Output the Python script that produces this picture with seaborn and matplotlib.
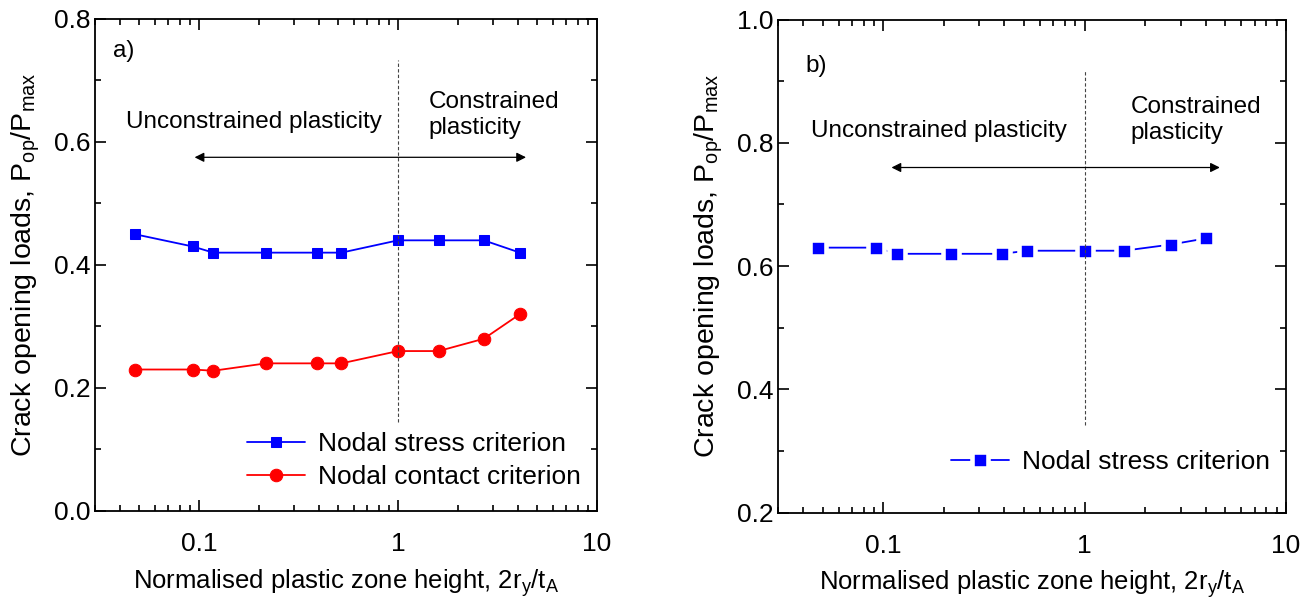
import matplotlib
matplotlib.use("Agg")
import matplotlib.pyplot as plt
import seaborn as sns
import pandas as pd
from matplotlib.ticker import FixedLocator, NullFormatter, MultipleLocator, LogLocator

# ---- data ----
x_a = [0.0475, 0.093, 0.118, 0.217, 0.39, 0.52, 1.0, 1.6, 2.7, 4.1]
stress_a = [0.45, 0.43, 0.42, 0.42, 0.42, 0.42, 0.44, 0.44, 0.44, 0.42]
contact_a = [0.23, 0.23, 0.228, 0.24, 0.24, 0.24, 0.26, 0.26, 0.28, 0.32]

x_b = [0.0473, 0.092, 0.117, 0.216, 0.39, 0.52, 1.0, 1.57, 2.68, 4.0]
stress_b = [0.63, 0.63, 0.62, 0.62, 0.62, 0.625, 0.625, 0.625, 0.635, 0.645]

x_ticks = [0.1, 1, 10]
x_tick_labels = ["0.1", "1", "10"]
y_ticks_a = [0.0, 0.2, 0.4, 0.6, 0.8]
y_ticks_b = [0.2, 0.4, 0.6, 0.8, 1.0]

sns.set_style("ticks")
plt.rcParams["font.family"] = ["Liberation Sans", "DejaVu Sans"]
plt.rcParams["mathtext.fontset"] = "custom"
plt.rcParams["mathtext.rm"] = "Liberation Sans"
plt.rcParams["mathtext.it"] = "Liberation Sans:italic"
plt.rcParams["mathtext.bf"] = "Liberation Sans:bold"
plt.rcParams["text.color"] = "black"
plt.rcParams["axes.labelcolor"] = "black"
plt.rcParams["xtick.color"] = "black"
plt.rcParams["ytick.color"] = "black"

fig = plt.figure(figsize=(13.14, 6.06), dpi=100)
ax1 = fig.add_axes([0.0723, 0.1568, 0.382, 0.812])
ax2 = fig.add_axes([0.592, 0.154, 0.3866, 0.8137])

FS_TICK = 19
FS_XL = 18.5
FS_YL = 20.5
FS_ANN = 17.5
FS_LEG = 19
xlabel = r"Normalised plastic zone height, 2r$_{\rm y}$/t$_{\rm A}$"
ylabel = r"Crack opening loads, P$_{\rm op}$/P$_{\rm max}$"

df_a = pd.DataFrame({"x": x_a, "stress": stress_a, "contact": contact_a})
df_b = pd.DataFrame({"x": x_b, "stress": stress_b})

sns.lineplot(data=df_a, x="x", y="stress", ax=ax1, color="#0000FF", marker="s",
             markersize=7.8, markeredgecolor="#0000FF", linewidth=1.3,
             label="Nodal stress criterion")
sns.lineplot(data=df_a, x="x", y="contact", ax=ax1, color="#FF0000", marker="o",
             markersize=9, markeredgecolor="#FF0000", linewidth=1.3,
             label="Nodal contact criterion")
sns.lineplot(data=df_b, x="x", y="stress", ax=ax2, color="#0000FF", marker="s",
             markersize=11.5, markeredgecolor="white", markeredgewidth=3.3,
             linewidth=1.3, label="Nodal stress criterion")

def style(ax, ylim, yticks, ymin_step):
    ax.set_xscale("log")
    ax.set_xlim(0.03, 10)
    ax.set_ylim(*ylim)
    ax.xaxis.set_major_locator(FixedLocator(x_ticks))
    ax.set_xticklabels(x_tick_labels)
    ax.xaxis.set_minor_locator(LogLocator(base=10, subs=range(2, 10)))
    ax.xaxis.set_minor_formatter(NullFormatter())
    ax.set_yticks(yticks)
    ax.set_yticklabels([f"{v:.1f}" for v in yticks])
    ax.yaxis.set_minor_locator(MultipleLocator(ymin_step))
    ax.tick_params(which="both", direction="in", top=True, right=True,
                   labelsize=FS_TICK, width=1.2, color="black", labelcolor="black")
    ax.tick_params(which="major", length=8)
    ax.tick_params(axis="x", which="major", pad=15)
    ax.tick_params(axis="y", which="major", pad=3)
    ax.tick_params(which="minor", length=4)
    for s in ax.spines.values():
        s.set_linewidth(1.3)
        s.set_color("black")
    ax.set_xlabel(xlabel, fontsize=FS_XL, labelpad=8)
    ax.set_ylabel(ylabel, fontsize=FS_YL, labelpad=9)

style(ax1, (0.0, 0.8), y_ticks_a, 0.1)
style(ax2, (0.2, 1.0), y_ticks_b, 0.1)

# annotations panel a
ax1.axvline(1.0, ymin=(0.145 - 0.0) / 0.8, ymax=(0.733 - 0.0) / 0.8,
            color="#444444", linestyle=(0, (3, 2)), linewidth=0.8)
ax1.annotate("", xy=(0.095, 0.575), xytext=(4.4, 0.575),
             arrowprops=dict(arrowstyle="<|-|>", color="black", lw=0.9,
                             mutation_scale=14, shrinkA=0, shrinkB=0))
ax1.text(0.043, 0.633, "Unconstrained plasticity", fontsize=FS_ANN, va="center", ha="left")
ax1.text(1.42, 0.644, "Constrained\nplasticity", fontsize=FS_ANN, va="center", ha="left",
         linespacing=1.2)
ax1.text(0.035, 0.935, "a)", transform=ax1.transAxes, fontsize=FS_ANN, va="center")

# annotations panel b
ax2.axvline(1.0, ymin=(0.342 - 0.2) / 0.8, ymax=(0.918 - 0.2) / 0.8,
            color="#444444", linestyle=(0, (3, 2)), linewidth=0.8)
ax2.annotate("", xy=(0.11, 0.76), xytext=(4.7, 0.76),
             arrowprops=dict(arrowstyle="<|-|>", color="black", lw=0.9,
                             mutation_scale=14, shrinkA=0, shrinkB=0))
ax2.text(0.0436, 0.819, "Unconstrained plasticity", fontsize=FS_ANN, va="center", ha="left")
ax2.text(1.69, 0.837, "Constrained\nplasticity", fontsize=FS_ANN, va="center", ha="left",
         linespacing=1.2)
ax2.text(0.055, 0.905, "b)", transform=ax2.transAxes, fontsize=FS_ANN, va="center")

leg1 = ax1.legend(loc="lower right", frameon=False, fontsize=FS_LEG, handlelength=2.2,
                  handletextpad=0.5, borderaxespad=0.2, labelspacing=0.35,
                  bbox_to_anchor=(1.0, 0.012))
leg2 = ax2.legend(loc="lower right", frameon=False, fontsize=FS_LEG, handlelength=2.2,
                  handletextpad=0.5, borderaxespad=0.2, bbox_to_anchor=(1.0, 0.046))

fig.savefig("out.png", dpi=100)
